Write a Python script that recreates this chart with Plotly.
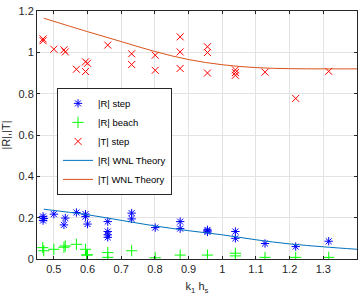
import plotly.graph_objects as go

# ---- data ----
t_step_x = [0.468, 0.468, 0.5, 0.53, 0.534, 0.567, 0.594, 0.6, 0.594, 0.66, 0.731, 0.731,
            0.801, 0.801, 0.875, 0.875, 0.875, 0.956, 0.956, 0.956, 1.039, 1.039, 1.039,
            1.127, 1.218, 1.316]
t_step_y = [1.056, 1.065, 1.015, 1.012, 1.002, 0.918, 0.954, 0.947, 0.907, 1.035, 0.993, 0.941,
            0.986, 0.913, 1.075, 1.002, 0.922, 1.027, 0.999, 0.900, 0.915, 0.902, 0.889,
            0.904, 0.777, 0.908]

r_step_x = [0.468, 0.468, 0.47, 0.5, 0.53, 0.534, 0.567, 0.594, 0.594, 0.6, 0.66, 0.66, 0.66,
            0.66, 0.731, 0.731, 0.801, 0.875, 0.875, 0.956, 0.956, 0.956, 1.039, 1.039,
            1.127, 1.218, 1.316]
r_step_y = [0.206, 0.186, 0.196, 0.217, 0.165, 0.198, 0.225, 0.217, 0.205, 0.169, 0.181, 0.133,
            0.117, 0.105, 0.222, 0.194, 0.152, 0.181, 0.147, 0.141, 0.131, 0.136, 0.133, 0.100,
            0.075, 0.060, 0.086]

r_beach_x = [0.467, 0.47, 0.5, 0.53, 0.534, 0.567, 0.594, 0.597, 0.6, 0.66, 0.66, 0.731,
             0.801, 0.875, 0.956, 1.039, 1.039, 1.127, 1.218, 1.316]
r_beach_y = [0.055, 0.040, 0.047, 0.057, 0.063, 0.071, 0.047, 0.019, 0.020, 0.031, 0.008, 0.040,
             0.006, 0.019, 0.019, 0.028, 0.015, 0.008, 0.008, 0.008]

theory_x = [0.47, 0.5, 0.6, 0.7, 0.8, 0.9, 1.0, 1.1, 1.2, 1.3, 1.4]
r_theory = [0.241, 0.235, 0.214, 0.187, 0.160, 0.137, 0.117, 0.093, 0.073, 0.059, 0.047]
t_theory = [1.165, 1.150, 1.100, 1.052, 1.004, 0.965, 0.940, 0.926, 0.921, 0.920, 0.920]

x_ticks = [0.5, 0.6, 0.7, 0.8, 0.9, 1.0, 1.1, 1.2, 1.3]
x_tick_labels = ["0.5", "0.6", "0.7", "0.8", "0.9", "1", "1.1", "1.2", "1.3"]
y_ticks = [0, 0.2, 0.4, 0.6, 0.8, 1.0, 1.2]
y_tick_labels = ["0", "0.2", "0.4", "0.6", "0.8", "1", "1.2"]

FONT = "Liberation Sans, Arial, sans-serif"
AX = "#262626"

fig = go.Figure()
fig.add_trace(go.Scatter(x=r_step_x, y=r_step_y, mode="markers", name="|R| step",
                         marker=dict(symbol="asterisk-open", size=7, color="#0000ff",
                                     line=dict(color="#0000ff", width=1))))
fig.add_trace(go.Scatter(x=r_beach_x, y=r_beach_y, mode="markers", name="|R| beach",
                         marker=dict(symbol="cross-thin-open", size=8, color="#00ff00",
                                     line=dict(color="#00ff00", width=1))))
fig.add_trace(go.Scatter(x=t_step_x, y=t_step_y, mode="markers", name="|T| step",
                         marker=dict(symbol="x-thin-open", size=7, color="#ff0000",
                                     line=dict(color="#ff0000", width=1))))
fig.add_trace(go.Scatter(x=theory_x, y=r_theory, mode="lines", name="|R| WNL Theory",
                         line=dict(color="#0072BD", width=1, shape="spline")))
fig.add_trace(go.Scatter(x=theory_x, y=t_theory, mode="lines", name="|T| WNL Theory",
                         line=dict(color="#D95319", width=1, shape="spline")))

axis_common = dict(showline=True, linecolor=AX, linewidth=1, mirror="allticks",
                   ticks="inside", ticklen=3, tickcolor=AX, showgrid=True,
                   gridcolor="#e3e3e3", gridwidth=1, zeroline=False,
                   tickfont=dict(family=FONT, size=11, color=AX))

fig.update_xaxes(range=[0.45, 1.4], tickvals=x_ticks, ticktext=x_tick_labels,
                 title=dict(text="k<sub>1</sub> h<sub>s</sub>", standoff=8,
                            font=dict(family=FONT, size=11, color=AX)), **axis_common)
fig.update_yaxes(range=[0, 1.2], tickvals=y_ticks, ticktext=y_tick_labels,
                 title=dict(text="|R|,|T|", standoff=6,
                            font=dict(family=FONT, size=11, color=AX)), **axis_common)

fig.update_layout(
    width=360, height=295,
    margin=dict(l=37, r=3, t=11, b=36),
    paper_bgcolor="white", plot_bgcolor="white",
    showlegend=True,
    legend=dict(x=0.0625, y=0.69, xanchor="left", yanchor="top",
                bgcolor="white", bordercolor=AX, borderwidth=1,
                font=dict(family=FONT, size=9.5, color="#000000"),
                tracegroupgap=0, itemwidth=30),
)

fig.write_html("out.html")
